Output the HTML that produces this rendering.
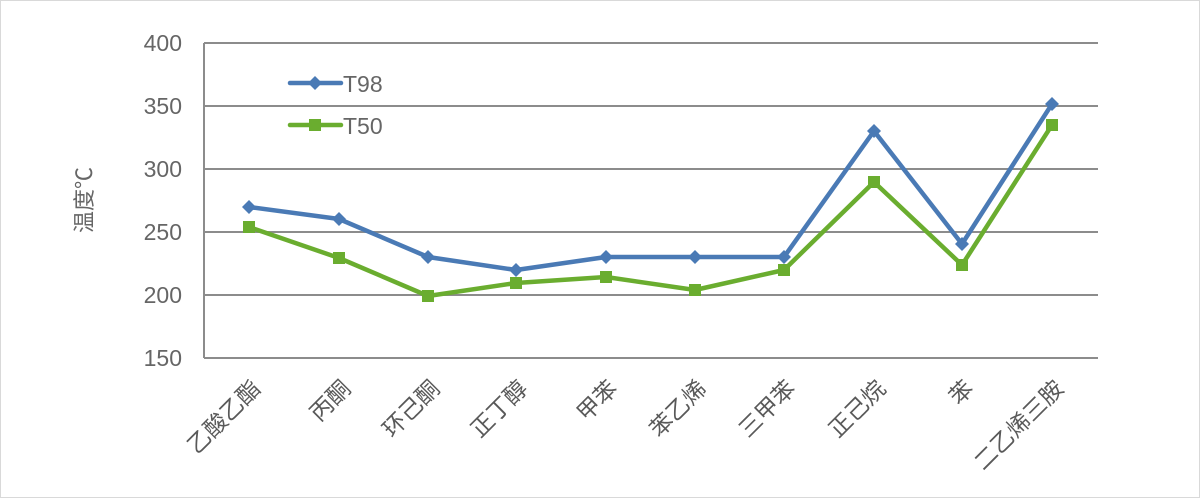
<!DOCTYPE html>
<html><head><meta charset="utf-8"><style>html,body{margin:0;padding:0;background:#fff}svg{display:block}</style></head><body>
<svg width="1200" height="498" xmlns="http://www.w3.org/2000/svg" font-family="Liberation Sans, Noto Sans CJK SC, sans-serif">
<rect x="0.5" y="0.5" width="1199" height="497" fill="#fff" stroke="#d9d9d9"/>
<g stroke="#8c8c8c" stroke-width="2">
<line x1="204" y1="43" x2="1098" y2="43"/>
<line x1="204" y1="106" x2="1098" y2="106"/>
<line x1="204" y1="169" x2="1098" y2="169"/>
<line x1="204" y1="232" x2="1098" y2="232"/>
<line x1="204" y1="295" x2="1098" y2="295"/>
<line x1="204" y1="358" x2="1098" y2="358"/>
<line x1="204" y1="43" x2="204" y2="358"/>
</g>
<g fill="#666" font-size="23" text-anchor="end">
<text x="182" y="51">400</text><text x="182" y="114">350</text><text x="182" y="177">300</text>
<text x="182" y="240">250</text><text x="182" y="303">200</text><text x="182" y="366">150</text>
</g>
<text transform="translate(92,200) rotate(-90)" fill="#666" font-size="22" text-anchor="middle">温度℃</text>
<g fill="#595959" font-size="23" text-anchor="end">
<text transform="translate(262,390) rotate(-45)">乙酸乙酯</text>
<text transform="translate(352,390) rotate(-45)">丙酮</text>
<text transform="translate(441,390) rotate(-45)">环己酮</text>
<text transform="translate(529,390) rotate(-45)">正丁醇</text>
<text transform="translate(619,390) rotate(-45)">甲苯</text>
<text transform="translate(708,390) rotate(-45)">苯乙烯</text>
<text transform="translate(797,390) rotate(-45)">三甲苯</text>
<text transform="translate(887,390) rotate(-45)">正己烷</text>
<text transform="translate(975,390) rotate(-45)">苯</text>
<text transform="translate(1065,390) rotate(-45)">二乙烯三胺</text>
</g>
<polyline fill="none" stroke="#4a7ab5" stroke-width="4.5" stroke-linejoin="round" points="249,207 339,219 428,257 516,270 606,257 695,257 784,257 874,131 962,244 1052,104"/>
<g fill="#4a7ab5">
<path d="M249,200l7,7l-7,7l-7,-7z"/><path d="M339,212l7,7l-7,7l-7,-7z"/><path d="M428,250l7,7l-7,7l-7,-7z"/><path d="M516,263l7,7l-7,7l-7,-7z"/><path d="M606,250l7,7l-7,7l-7,-7z"/><path d="M695,250l7,7l-7,7l-7,-7z"/><path d="M784,250l7,7l-7,7l-7,-7z"/><path d="M874,124l7,7l-7,7l-7,-7z"/><path d="M962,237l7,7l-7,7l-7,-7z"/><path d="M1052,97l7,7l-7,7l-7,-7z"/>
</g>
<polyline fill="none" stroke="#6aad2f" stroke-width="4.5" stroke-linejoin="round" points="249,227 339,258 428,296 516,283 606,277 695,290 784,270 874,182 962,265 1052,125"/>
<g fill="#6aad2f">
<rect x="243" y="221" width="12" height="12"/><rect x="333" y="252" width="12" height="12"/><rect x="422" y="290" width="12" height="12"/><rect x="510" y="277" width="12" height="12"/><rect x="600" y="271" width="12" height="12"/><rect x="689" y="284" width="12" height="12"/><rect x="778" y="264" width="12" height="12"/><rect x="868" y="176" width="12" height="12"/><rect x="956" y="259" width="12" height="12"/><rect x="1046" y="119" width="12" height="12"/>
</g>
<line x1="290" y1="83" x2="341" y2="83" stroke="#4a7ab5" stroke-width="4.5" stroke-linecap="round"/>
<path d="M315,76l7,7l-7,7l-7,-7z" fill="#4a7ab5"/>
<line x1="290" y1="125" x2="341" y2="125" stroke="#6aad2f" stroke-width="4.5" stroke-linecap="round"/>
<rect x="309" y="119" width="12" height="12" fill="#6aad2f"/>
<g fill="#666" font-size="23"><text x="343" y="92">T98</text><text x="343" y="134">T50</text></g>
</svg>
</body></html>
